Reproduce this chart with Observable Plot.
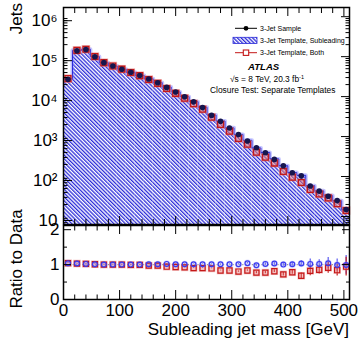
<!DOCTYPE html>
<html>
<head>
<meta charset="utf-8">
<script src="https://cdn.jsdelivr.net/npm/d3@7"></script>
<script src="https://cdn.jsdelivr.net/npm/@observablehq/plot@0.6"></script>
<style>
html,body{margin:0;padding:0;background:#fff;}
#chart{position:relative;width:359px;height:342px;overflow:hidden;font-family:"Liberation Sans",Arial,Helvetica,sans-serif;}
#chart > svg{position:absolute;left:0;}
</style>
</head>
<body>
<div id="chart"></div>
<script>
// ---------------- data ----------------
const binCenters = [8,24,40,56,72,88,104,120,136,152,168,184,200,216,232,248,264,280,296,312,328,344,360,376,392,408,424,440,456,472,488,504];
const binWidth = 16;
const sampleCounts = [27100,139600,150400,99700,70800,58500,48600,40600,33800,27700,22200,17000,13000,9890,7400,5350,3430,2420,1640,1120,773,527,394,268,186,124,104,58,43,32,25,15];
const ratioSubleading = [1.04,1.03,1.02,1.01,1.0,1.0,1.0,1.0,1.0,1.01,1.01,1.02,1.01,1.01,1.01,1.01,1.01,1.01,1.01,1.01,1.04,0.98,1.02,1.03,1.0,1.01,1.03,1.02,1.02,1.04,0.99,0.99];
const ratioBoth = [1.04,1.03,1.02,1.01,1.0,1.0,1.0,0.99,0.99,0.97,0.97,0.94,0.93,0.92,0.90,0.90,0.89,0.83,0.83,0.80,0.83,0.77,0.77,0.81,0.72,0.78,0.68,0.82,0.85,0.91,0.84,0.94];
const ratioErr = [0.01,0.01,0.01,0.01,0.01,0.01,0.01,0.01,0.01,0.01,0.01,0.01,0.01,0.01,0.01,0.01,0.01,0.01,0.01,0.02,0.02,0.03,0.03,0.04,0.05,0.06,0.08,0.14,0.12,0.16,0.17,0.27];

const xMajorTicks = [0,100,200,300,400,500];
const xMinorTicks = [20,40,60,80,120,140,160,180,220,240,260,280,320,340,360,380,420,440,460,480];
const yMajorTicks = [10,100,1000,10000,100000,1000000];
const yMajorLabels = ["10","10²","10³","10⁴","10⁵","10⁶"];
const ratioTicks = [0,1,2];
const ratioLabels = ["0","1","2"];
const ratioMinorTicks = [0.5,1.5];

const legendLabels = ["3-Jet Sample","3-Jet Template, Subleading","3-Jet Template, Both"];
const atlasLabel = "ATLAS";
const energyLabel = "√s = 8 TeV, 20.3 fb";
const energySup = "-1";
const testLabel = "Closure Test: Separate Templates";
const xTitle = "Subleading jet mass [GeV]";
const yTitleMain = "Jets";
const yTitleRatio = "Ratio to Data";

// ---------------- derived tables ----------------
const bins = binCenters.map((c, i) => ({
  x: c, x1: c - binWidth / 2, x2: c + binWidth / 2,
  data: sampleCounts[i],
  tmpl: sampleCounts[i] * ratioSubleading[i],
  both: sampleCounts[i] * ratioBoth[i],
  rSub: ratioSubleading[i], rBoth: ratioBoth[i], err: ratioErr[i]
}));
const last = bins[bins.length - 1];
const steps = bins.map(b => ({x: b.x1, y: b.tmpl})).concat([{x: last.x2, y: last.tmpl}]);

const yDomain = [6.3, 1.7e6];
const xDomain = [0, 510];
const rDomain = [0, 2.12];
const yMinorTicks = d3.range(0, 6).flatMap(k => d3.range(2, 10).map(m => m * 10 ** k)).filter(v => v >= yDomain[0] && v <= yDomain[1]);

const FONT = '"Liberation Sans", Arial, Helvetica, sans-serif';
const BLUE = "#2a2ad8";
const RED = "#c41818";
const chart = document.getElementById("chart");

// hatch pattern
const defs = d3.create("svg").attr("width", 0).attr("height", 0).style("position", "absolute");
const pat = defs.append("defs").append("pattern").attr("id", "hatch")
  .attr("patternUnits", "userSpaceOnUse").attr("width", 2.7).attr("height", 10)
  .attr("patternTransform", "rotate(-45)");
pat.append("rect").attr("width", 2.7).attr("height", 10).attr("fill", "#fff");
pat.append("rect").attr("width", 1.3).attr("height", 10).attr("fill", BLUE);
chart.appendChild(defs.node());

const noText = () => "";
const styleCommon = {fontFamily: FONT, fontSize: "17px", color: "black", background: "transparent", overflow: "visible"};

// ---------------- main panel ----------------
const main = Plot.plot({
  width: 359, height: 225,
  marginLeft: 63, marginRight: 10, marginTop: 7, marginBottom: 1,
  style: styleCommon,
  x: {domain: xDomain},
  y: {type: "log", domain: yDomain},
  marks: [
    Plot.rect(bins, {x1: "x1", x2: "x2", y1: () => yDomain[0], y2: "tmpl", fill: "url(#hatch)", clip: true}),
    Plot.line(steps, {x: "x", y: "y", curve: "step-after", stroke: "#7f7fff", strokeWidth: 4, strokeOpacity: 0.45, clip: true}),
    Plot.line(steps, {x: "x", y: "y", curve: "step-after", stroke: BLUE, strokeWidth: 1, clip: true}),
    Plot.dot(bins, {x: "x", y: "both", symbol: "square", r: 4.8, fill: "#e67a7a", fillOpacity: 0.55}),
    Plot.dot(bins, {x: "x", y: "both", symbol: "square", r: 3.3, stroke: RED, strokeWidth: 1.3, fill: "none"}),
    Plot.dot(bins, {x: "x", y: "data", r: 2.8, fill: "#16164e"}),
    Plot.axisX({ticks: xMajorTicks, anchor: "bottom", tickSize: -8, tickFormat: noText, label: null}),
    Plot.axisX({ticks: xMinorTicks, anchor: "bottom", tickSize: -5, tickFormat: noText, label: null}),
    Plot.axisX({ticks: xMajorTicks, anchor: "top", tickSize: -8, tickFormat: noText, label: null}),
    Plot.axisX({ticks: xMinorTicks, anchor: "top", tickSize: -5, tickFormat: noText, label: null}),
    Plot.axisY({ticks: yMajorTicks, anchor: "left", tickSize: -9, tickPadding: 15, dy: 4,
      tickFormat: v => yMajorLabels[yMajorTicks.indexOf(v)], label: null, fontSize: 17}),
    Plot.axisY({ticks: yMinorTicks, anchor: "left", tickSize: -4.5, tickFormat: noText, label: null}),
    Plot.axisY({ticks: yMajorTicks, anchor: "right", tickSize: -9, tickFormat: noText, label: null}),
    Plot.axisY({ticks: yMinorTicks, anchor: "right", tickSize: -4.5, tickFormat: noText, label: null}),
    Plot.frame({stroke: "black", strokeWidth: 1.5})
  ]
});
main.style.top = "0px";
chart.appendChild(main);

// ---------------- ratio panel ----------------
const ratio = Plot.plot({
  width: 359, height: 118,
  marginLeft: 63, marginRight: 10, marginTop: 1, marginBottom: 43,
  style: styleCommon,
  x: {domain: xDomain},
  y: {domain: rDomain},
  marks: [
    Plot.ruleY([1], {stroke: "#9a9a9a", strokeWidth: 1.2, strokeDasharray: "1.2,2"}),
    Plot.ruleX(bins, {x: "x", y1: d => d.rSub - d.err, y2: d => d.rSub + d.err, stroke: "#5a5af0", strokeWidth: 1.2}),
    Plot.ruleX(bins, {x: "x", y1: d => d.rBoth - d.err, y2: d => d.rBoth + d.err, stroke: RED, strokeWidth: 1.2}),
    Plot.dot(bins, {x: "x", y: "rBoth", symbol: "square", r: 4.3, fill: "#e67a7a", fillOpacity: 0.45}),
    Plot.dot(bins, {x: "x", y: "rSub", r: 3.6, fill: "#9c9cf5", fillOpacity: 0.35}),
    Plot.dot(bins, {x: "x", y: "rBoth", symbol: "square", r: 2.9, stroke: RED, strokeWidth: 1.2, fill: "none"}),
    Plot.dot(bins, {x: "x", y: "rSub", r: 2.4, stroke: "#3a3af0", strokeWidth: 1.2, fill: "none"}),
    Plot.axisX({ticks: xMajorTicks, anchor: "bottom", tickSize: -9, tickPadding: 13, label: null, fontSize: 17, tickFormat: d => String(d)}),
    Plot.axisX({ticks: xMinorTicks, anchor: "bottom", tickSize: -4.5, tickFormat: noText, label: null}),
    Plot.axisX({ticks: xMajorTicks, anchor: "top", tickSize: -8, tickFormat: noText, label: null}),
    Plot.axisX({ticks: xMinorTicks, anchor: "top", tickSize: -4.5, tickFormat: noText, label: null}),
    Plot.axisY({ticks: ratioTicks, anchor: "left", tickSize: -8, tickPadding: 12, label: null, fontSize: 17,
      tickFormat: v => ratioLabels[ratioTicks.indexOf(v)]}),
    Plot.axisY({ticks: ratioMinorTicks, anchor: "left", tickSize: -4, tickFormat: noText, label: null}),
    Plot.axisY({ticks: ratioTicks, anchor: "right", tickSize: -8, tickFormat: noText, label: null}),
    Plot.axisY({ticks: ratioMinorTicks, anchor: "right", tickSize: -4, tickFormat: noText, label: null}),
    Plot.frame({stroke: "black", strokeWidth: 1.5})
  ]
});
ratio.style.top = "224px";
chart.appendChild(ratio);

// ---------------- titles & legend overlay ----------------
const ov = d3.create("svg").attr("width", 359).attr("height", 342)
  .style("position", "absolute").style("top", "0px").style("left", "0px")
  .attr("font-family", FONT).attr("fill", "black");
ov.append("text").attr("transform", "translate(21.7,3) rotate(-90)").attr("text-anchor", "end").attr("font-size", 17).text(yTitleMain);
ov.append("text").attr("transform", "translate(21.5,259) rotate(-90)").attr("text-anchor", "middle").attr("font-size", 17).text(yTitleRatio);
ov.append("text").attr("x", 349).attr("y", 335).attr("text-anchor", "end").attr("font-size", 17).text(xTitle);

// legend rows
const lg = ov.append("g");
lg.append("line").attr("x1", 235).attr("x2", 257).attr("y1", 28.3).attr("y2", 28.3).attr("stroke", "black").attr("stroke-width", 1);
lg.append("circle").attr("cx", 246).attr("cy", 28.3).attr("r", 2.4).attr("fill", "black");
lg.append("rect").attr("x", 233).attr("y", 37.3).attr("width", 24).attr("height", 6.2).attr("fill", "url(#hatch)").attr("stroke", BLUE).attr("stroke-width", 0.8);
lg.append("line").attr("x1", 235).attr("x2", 257).attr("y1", 52.7).attr("y2", 52.7).attr("stroke", RED).attr("stroke-width", 1);
lg.append("rect").attr("x", 243.3).attr("y", 50).attr("width", 5.4).attr("height", 5.4).attr("fill", "white").attr("stroke", RED).attr("stroke-width", 1.1);
const rowY = [28.3, 40.3, 52.7];
legendLabels.forEach((t, i) => {
  lg.append("text").attr("x", 260).attr("y", rowY[i]).attr("dy", "0.35em").attr("font-size", 7).text(t);
});
ov.append("text").attr("x", 248).attr("y", 69.5).attr("font-size", 9.6).attr("font-weight", "bold").attr("font-style", "italic").text(atlasLabel);
const en = ov.append("text").attr("x", 230).attr("y", 82.3).attr("font-size", 8.4);
en.append("tspan").text(energyLabel);
en.append("tspan").attr("font-size", 5.5).attr("dy", -3.5).text(energySup);
ov.append("text").attr("x", 210).attr("y", 92.6).attr("font-size", 8.4).text(testLabel);
chart.appendChild(ov.node());
</script>
</body>
</html>
